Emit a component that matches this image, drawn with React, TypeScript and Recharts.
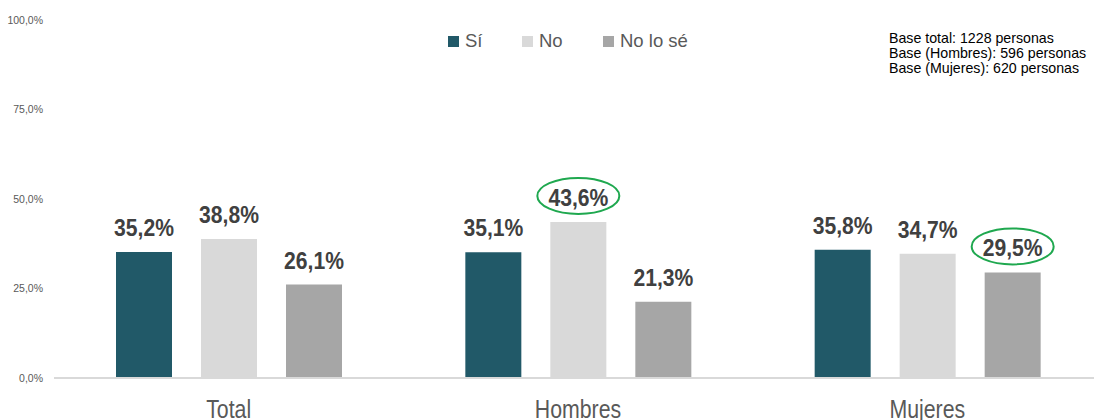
import { Bar, BarChart, LabelList, XAxis, YAxis } from "recharts";

document.body.style.margin = "0";

const categories = ["Total", "Hombres", "Mujeres"];
const siValues = [35.2, 35.1, 35.8];
const noValues = [38.8, 43.6, 34.7];
const noSeValues = [26.1, 21.3, 29.5];
const yTicks = [0, 25, 50, 75, 100];
const baseNotes = [
  "Base total: 1228 personas",
  "Base (Hombres): 596 personas",
  "Base (Mujeres): 620 personas",
];
// value labels circled in green, per series
const circledNo = ["Hombres"];
const circledNoSe = ["Mujeres"];

const series = [
  { key: "si", name: "Sí", color: "#215968", circled: [] as string[] },
  { key: "no", name: "No", color: "#d9d9d9", circled: circledNo },
  { key: "nose", name: "No lo sé", color: "#a6a6a6", circled: circledNoSe },
];

const data = categories.map((c, i) => ({
  name: c,
  si: siValues[i],
  no: noValues[i],
  nose: noSeValues[i],
}));

const SANS = '"Liberation Sans", Arial, sans-serif';

function fmt(v: number, digits = 1) {
  return v.toFixed(digits).replace(".", ",") + "%";
}

function makeLabel(circled: string[]) {
  return (props: any) => {
    const { x, y, width, value, index } = props;
    const cx = Number(x) + Number(width) / 2;
    const base = Number(y) - 16;
    const ring = circled.includes(categories[index]);
    return (
      <g>
        {ring && (
          <ellipse
            cx={cx}
            cy={base - 10}
            rx={41}
            ry={18}
            fill="none"
            stroke="#1fa84f"
            strokeWidth={2}
          />
        )}
        <text
          transform={`translate(${cx},${base}) scale(0.88,1)`}
          textAnchor="middle"
          fontFamily={SANS}
          fontWeight="bold"
          fontSize={24}
          fill="#404040"
        >
          {fmt(value)}
        </text>
      </g>
    );
  };
}

function CategoryTick(props: any) {
  const { x, y, payload } = props;
  return (
    <text
      transform={`translate(${x},${Number(y) + 38}) scale(0.82,1)`}
      textAnchor="middle"
      fontFamily={SANS}
      fontSize={26}
      fill="#595959"
    >
      {payload.value}
    </text>
  );
}

function LegendBox() {
  const offsets = [0, 74, 155];
  return (
    <div style={{ position: "absolute", left: 448, top: 30, height: 24 }}>
      {series.map((s, i) => (
        <div
          key={s.key}
          style={{
            position: "absolute",
            left: offsets[i],
            top: 0,
            display: "flex",
            alignItems: "center",
            whiteSpace: "nowrap",
            fontFamily: SANS,
            fontSize: 18.5,
            color: "#595959",
          }}
        >
          <span style={{ width: 11, height: 11, background: s.color, marginRight: 6, display: "inline-block" }} />
          {s.name}
        </div>
      ))}
    </div>
  );
}

export default function App() {
  return (
    <div style={{ position: "relative", width: 1094, height: 420, overflow: "hidden", background: "#fff" }}>
      <BarChart
        width={1102}
        height={420}
        data={data}
        margin={{ top: 20, right: 0, left: 0, bottom: 0 }}
        barSize={56}
        barGap={29}
      >
        <XAxis
          dataKey="name"
          height={42}
          tickLine={false}
          tickSize={0}
          axisLine={{ stroke: "#d9d9d9", strokeWidth: 2 }}
          tick={<CategoryTick />}
        />
        <YAxis
          domain={[0, 100]}
          ticks={yTicks}
          width={54}
          axisLine={false}
          tickLine={false}
          tickSize={0}
          tickMargin={11}
          tickFormatter={(v: number) => fmt(v)}
          tick={{ fill: "#595959", fontSize: 10.5, fontFamily: SANS }}
        />
        {series.map((s) => (
          <Bar key={s.key} dataKey={s.key} name={s.name} fill={s.color} isAnimationActive={false}>
            <LabelList dataKey={s.key} content={makeLabel(s.circled)} />
          </Bar>
        ))}
      </BarChart>
      <LegendBox />
      <div
        style={{
          position: "absolute",
          left: 889,
          top: 31,
          fontFamily: SANS,
          fontSize: 14.2,
          lineHeight: "14.8px",
          color: "#000",
          whiteSpace: "nowrap",
        }}
      >
        {baseNotes.map((t) => (
          <div key={t}>{t}</div>
        ))}
      </div>
    </div>
  );
}
